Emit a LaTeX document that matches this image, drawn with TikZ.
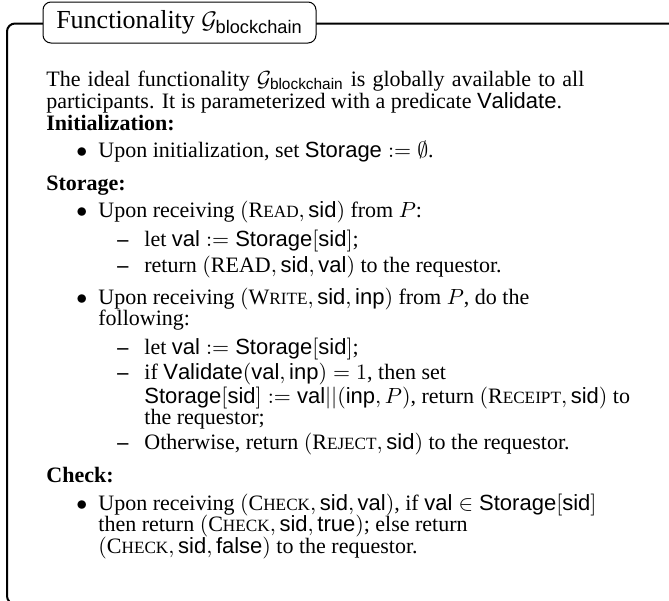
\documentclass[tikz,border=0pt]{standalone}
\usepackage{amsmath}
\usepackage{fontspec}
\setmainfont{Liberation Serif}
\setsansfont{Liberation Sans}
\newcommand\smcap[2]{#1{\fontsize{8.6}{10}\selectfont #2}}
\newcommand\bodyfont{\fontsize{11}{13}\selectfont}
\newcommand\titlefont{\fontsize{13}{15}\selectfont}
\begin{document}
\begin{tikzpicture}[x=0.5pt,y=-0.5pt,
  frameline/.style={line width=1pt, rounded corners=4pt},
  titlebox/.style={draw, line width=0.5pt, rounded corners=4pt, fill=white,
    minimum width=136.5pt, minimum height=20.5pt, inner sep=0pt, font=\titlefont},
  txt/.style={anchor=base west, inner sep=0pt, font=\bodyfont},
  head/.style={txt, font=\bodyfont\bfseries},
  bul/.style={txt},
  dsh/.style={txt, font=\bodyfont\bfseries}]
\useasboundingbox (0,0) rectangle (669,600);
\clip (0,0) rectangle (669,600);
\fill[white] (0,0) rectangle (669,600);
\draw[frameline] (720,23.5) -- (7,23.5) -- (7,604) -- (720,604);
\node[titlebox] (title) at (179.5,22.5) {Functionality $\mathcal{G}_{\mathsf{blockchain}}$};
% intro
\node[txt] (l1) at (46,86) {\makebox[269pt][s]{The ideal functionality $\mathcal{G}_{\mathsf{blockchain}}$ is globally available to all}};
\node[txt] (l2) at (46,108) {participants. It is parameterized with a predicate $\mathsf{Validate}$.};
% Initialization
\node[head] (h1) at (46,130) {Initialization:};
\node[bul] (b1) at (76,157.3) {$\bullet$};
\node[txt] (l4) at (98,157.3) {Upon initialization, set $\mathsf{Storage} := \emptyset$.};
% Storage
\node[head] (h2) at (46,190.3) {Storage:};
\node[bul] (b2) at (76,217.6) {$\bullet$};
\node[txt] (l6) at (98,217.6) {Upon receiving $(\text{\smcap{R}{EAD}}, \mathsf{sid})$ from $P$:};
\node[dsh] (d1) at (117,246.6) {\textendash};
\node[txt] (l7) at (144,246.6) {let $\mathsf{val} := \mathsf{Storage}[\mathsf{sid}]$;};
\node[dsh] (d2) at (117,272.2) {\textendash};
\node[txt] (l8) at (144,272.2) {return $(\text{READ}, \mathsf{sid}, \mathsf{val})$ to the requestor.};
\node[bul] (b3) at (76,304.2) {$\bullet$};
\node[txt] (l9) at (98,304.2) {Upon receiving $(\text{\smcap{W}{RITE}}, \mathsf{sid}, \mathsf{inp})$ from $P$, do the};
\node[txt] (l10) at (98,325.9) {following:};
\node[dsh] (d3) at (117,354.5) {\textendash};
\node[txt] (l11) at (144,354.5) {let $\mathsf{val} := \mathsf{Storage}[\mathsf{sid}]$;};
\node[dsh] (d4) at (117,379) {\textendash};
\node[txt] (l12) at (144,379) {if $\mathsf{Validate}(\mathsf{val}, \mathsf{inp}) = 1$, then set};
\node[txt] (l13) at (144,403.5) {$\mathsf{Storage}[\mathsf{sid}] := \mathsf{val}||(\mathsf{inp}, P)$, return $(\text{\smcap{R}{ECEIPT}}, \mathsf{sid})$ to};
\node[txt] (l14) at (144,424.6) {the requestor;};
\node[dsh] (d5) at (117,449.5) {\textendash};
\node[txt] (l15) at (144,449.5) {Otherwise, return $(\text{\smcap{R}{EJECT}}, \mathsf{sid})$ to the requestor.};
% Check
\node[head] (h3) at (46,482.5) {Check:};
\node[bul] (b4) at (76,510) {$\bullet$};
\node[txt] (l17) at (98,510) {Upon receiving $(\text{\smcap{C}{HECK}}, \mathsf{sid}, \mathsf{val})$, if $\mathsf{val} \in \mathsf{Storage}[\mathsf{sid}]$};
\node[txt] (l18) at (98,531.7) {then return $(\text{\smcap{C}{HECK}}, \mathsf{sid}, \mathsf{true})$; else return};
\node[txt] (l19) at (98,553.4) {$(\text{\smcap{C}{HECK}}, \mathsf{sid}, \mathsf{false})$ to the requestor.};
\end{tikzpicture}
\end{document}
